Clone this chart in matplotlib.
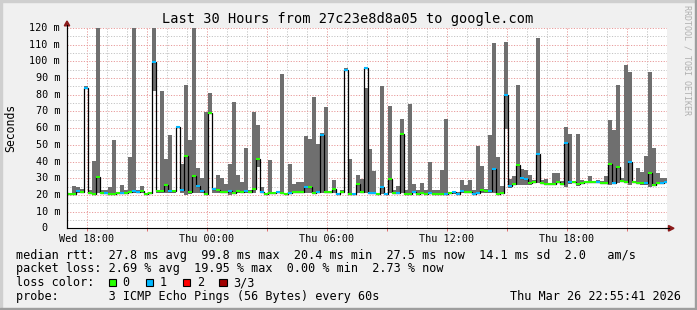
import numpy as np
import matplotlib
matplotlib.use('Agg')
import matplotlib.pyplot as plt
from matplotlib.patches import Rectangle, Polygon

W, H = 697, 310

# 12 minute bins, time in hours since Wed 17:00 (first bin starts off the left edge)
first_bin = -0.15
bin_hours = 0.2

smoke_lo = [20.5, 20.2, 20.2, 21.0, 21.0, 84.0, 20.6, 20.4, 21.0, 20.6,
            20.6, 20.4, 20.0, 20.8, 20.6, 20.8, 21.0, 21.0, 21.0, 21.4,
            20.0, 20.6, 82.2, 21.0, 21.0, 21.0, 21.0, 21.0, 60.0, 21.0,
            20.0, 20.6, 21.0, 21.0, 21.0, 20.4, 69.0, 21.0, 21.0, 21.0,
            21.0, 20.0, 21.0, 21.0, 21.0, 21.0, 21.0, 21.0, 37.0, 21.0,
            20.0, 21.0, 20.6, 21.0, 21.0, 20.0, 20.6, 21.0, 21.0, 21.0,
            21.0, 21.0, 20.4, 21.0, 21.0, 21.0, 21.0, 21.0, 20.2, 21.0,
            94.4, 20.0, 20.0, 21.0, 21.0, 21.0, 20.6, 20.6, 20.0, 20.4,
            20.0, 21.0, 20.6, 20.6, 21.0, 20.0, 20.0, 21.0, 20.4, 20.6,
            20.4, 20.6, 20.0, 20.0, 20.0, 20.4, 20.6, 20.4, 20.4, 21.0,
            21.0, 21.0, 20.4, 20.6, 21.0, 21.0, 21.0, 21.0, 20.0, 20.6,
            59.6, 24.0, 26.0, 26.0, 26.0, 26.0, 26.0, 27.0, 27.0, 26.4,
            26.0, 26.0, 26.0, 27.0, 26.0, 25.0, 26.6, 27.0, 25.6, 26.6,
            27.0, 27.0, 27.0, 27.0, 26.6, 26.6, 26.0, 26.6, 27.0, 28.0,
            27.0, 26.0, 27.0, 27.0, 26.0, 26.0, 25.0, 25.4, 26.6, 27.0,
            27.0]
smoke_hi = [74.0, 21.4, 25.2, 24.6, 23.4, 85.0, 23.0, 40.4, 130, 22.8,
            23.0, 25.0, 52.8, 22.0, 25.8, 23.0, 42.6, 130, 23.2, 25.2,
            21.0, 22.0, 130, 23.2, 82.2, 41.4, 55.8, 23.0, 61.4, 38.4,
            85.8, 53.2, 130, 36.4, 30.0, 69.6, 81.0, 24.0, 31.8, 30.0,
            26.4, 38.4, 75.6, 31.8, 27.6, 48.0, 23.0, 69.6, 62.0, 24.8,
            21.4, 40.8, 22.0, 22.4, 92.4, 21.0, 38.4, 26.4, 27.6, 28.0,
            55.2, 53.4, 78.6, 50.4, 57.0, 72.6, 22.4, 28.8, 21.4, 23.2,
            95.8, 41.4, 21.0, 31.8, 29.4, 84.0, 47.4, 34.4, 21.4, 85.2,
            21.0, 73.0, 23.0, 25.2, 65.4, 23.0, 74.4, 26.8, 23.0, 27.0,
            23.0, 39.6, 23.0, 23.0, 34.8, 65.4, 21.8, 22.6, 21.6, 29.0,
            25.8, 29.0, 23.0, 49.4, 37.2, 23.4, 55.8, 111.0, 42.6, 25.2,
            111.6, 29.4, 31.2, 85.8, 35.4, 34.8, 31.8, 28.8, 114.0, 29.2,
            29.6, 27.2, 33.0, 33.0, 28.4, 60.6, 56.4, 28.6, 56.4, 29.0,
            28.2, 31.2, 28.6, 29.0, 28.4, 31.2, 64.8, 58.8, 85.8, 30.0,
            97.8, 93.6, 28.4, 36.0, 33.6, 43.2, 93.6, 48.0, 33.0, 30.0,
            30.0]
median = [21.0, 20.6, 20.4, 22.4, 21.6, 84.2, 21.2, 20.8, 30.8, 21.0,
          21.2, 20.8, 20.4, 21.4, 21.2, 21.2, 21.6, 22.4, 21.8, 22.4,
          20.4, 21.2, 99.8, 22.4, 22.4, 26.0, 22.4, 22.4, 60.8, 22.8,
          43.2, 21.8, 31.2, 25.2, 22.4, 20.4, 69.0, 23.6, 23.0, 21.8,
          21.8, 22.4, 21.4, 22.4, 21.8, 22.4, 21.8, 23.6, 41.6, 21.8,
          20.4, 21.4, 21.0, 21.8, 21.4, 20.4, 21.4, 21.8, 21.8, 21.8,
          24.8, 24.8, 21.0, 22.0, 56.0, 21.8, 21.8, 23.6, 20.8, 21.8,
          95.0, 20.4, 20.4, 26.4, 21.6, 95.8, 21.2, 21.2, 20.4, 24.8,
          20.4, 29.6, 21.2, 21.2, 56.4, 20.4, 20.4, 21.8, 20.8, 21.2,
          20.8, 21.2, 20.4, 20.4, 20.4, 20.8, 21.2, 21.8, 20.8, 22.4,
          21.8, 21.8, 20.8, 21.2, 23.0, 22.4, 22.4, 35.4, 20.4, 21.2,
          80.0, 25.2, 26.8, 38.0, 30.0, 29.4, 27.0, 27.6, 44.4, 27.0,
          26.4, 26.4, 26.4, 28.0, 26.4, 51.2, 27.8, 27.8, 26.4, 27.2,
          27.6, 27.6, 27.6, 27.6, 27.0, 27.0, 38.4, 27.2, 36.8, 28.6,
          28.0, 39.8, 28.0, 27.2, 27.2, 27.2, 33.2, 25.8, 27.2, 27.2,
          27.5]
# number of lost pings (of 3) per bin
loss = [0, 0, 0, 1, 0, 1, 0, 0, 0, 0,
        1, 0, 0, 0, 1, 0, 0, 1, 1, 0,
        0, 0, 1, 0, 0, 0, 1, 0, 1, 1,
        0, 0, 0, 1, 1, 0, 0, 1, 0, 0,
        0, 1, 0, 0, 0, 1, 0, 0, 0, 1,
        0, 0, 0, 1, 0, 0, 1, 0, 0, 0,
        1, 0, 0, 1, 1, 0, 0, 0, 1, 0,
        1, 0, 1, 0, 0, 1, 1, 1, 0, 1,
        1, 0, 0, 1, 0, 0, 0, 1, 0, 0,
        0, 1, 0, 0, 0, 1, 0, 1, 1, 1,
        0, 0, 1, 1, 0, 0, 1, 1, 0, 0,
        1, 1, 0, 0, 1, 1, 0, 0, 1, 0,
        0, 0, 0, 0, 0, 1, 1, 0, 0, 0,
        0, 0, 0, 1, 0, 0, 0, 1, 0, 0,
        0, 1, 0, 0, 0, 1, 0, 0, 0, 1,
        1]

label_hours = [1, 7, 13, 19, 25]
time_labels = ['Wed 18:00', 'Thu 00:00', 'Thu 06:00', 'Thu 12:00', 'Thu 18:00']

rtt_stats = [27.8, 99.8, 20.4, 27.5, 14.1]   # avg max min now sd (ms)
loss_stats = [2.69, 19.95, 0.00, 2.73]       # avg max min now (%)
am_per_s = 2.0
loss_names = ['0', '1', '2', '3/3']
loss_colors = ['#26ff00', '#00b8ff', '#ff0000', '#a00000']

SMOKE = '#6f6f6f'
ARROW = '#8b1a1a'

plt.rcParams['font.family'] = 'DejaVu Sans Mono'

fig = plt.figure(figsize=(W / 100, H / 100), dpi=100, facecolor='#f0f0f0')


def fx(x):
    return x / W


def fy(y):
    return 1 - y / H


ax = fig.add_axes([fx(67), fy(228.3), 600 / W, 200.3 / H])
ax.set_facecolor('white')
ax.set_xlim(0, 30)
ax.set_ylim(0, 120)

n = len(median)
starts = first_bin + bin_hours * np.arange(n)
lo = np.array(smoke_lo)
hi = np.array(smoke_hi)
ax.bar(starts, hi - lo, bottom=lo, width=bin_hours, align='edge',
       color=SMOKE, linewidth=0, zorder=2)

edges = np.append(starts, starts[-1] + bin_hours)
ax.stairs(median, edges, baseline=None, color='black', lw=0.9, zorder=3)
ax.hlines(median, starts, starts + bin_hours,
          colors=[loss_colors[l] for l in loss], lw=1.5, zorder=4)

# grid: red every 10 ms / 3 h, grey every 5 ms / 1 h
major_x = np.arange(1, 30, 3)
label_at = dict(zip(label_hours, time_labels))
ax.set_xticks(major_x, [label_at.get(int(h), '') for h in major_x])
ax.set_xticks(np.arange(0, 31, 1), minor=True)
ax.set_yticks(np.arange(0, 121, 10))
ax.set_yticks(np.arange(0, 121, 5), minor=True)
ax.set_axisbelow(True)
ax.grid(which='minor', color='#c4c4c4', lw=0.7, ls=(0, (1.2, 1.6)))
ax.grid(which='major', color='#e89a9a', lw=0.7, ls=(0, (1.2, 1.6)))
ax.tick_params(axis='x', which='major', length=2.2, width=0.7,
               color='#e07070', pad=1.6, labelsize=7.3)
ax.tick_params(axis='x', which='minor', length=0)
ax.tick_params(axis='y', which='both', length=0, labelleft=False)

for s in ['top', 'right']:
    ax.spines[s].set_visible(False)
for s in ['left', 'bottom']:
    ax.spines[s].set_color('black')
    ax.spines[s].set_linewidth(0.8)
    ax.spines[s].set_zorder(5)

# y labels: number right aligned, " m" suffix (none for 0)
ytr = ax.get_yaxis_transform()
for v in range(0, 121, 10):
    if v:
        ax.text(-7 / 600, v, f'{v} m', transform=ytr, ha='right', va='center',
                fontsize=7.3)
    else:
        ax.text(-19.5 / 600, v, '0', transform=ytr, ha='right', va='center',
                fontsize=7.3)

# axis extensions and arrows
fig.add_artist(plt.Line2D([fx(67), fx(67)], [fy(228.3), fy(25)], color='black', lw=0.8))
fig.add_artist(plt.Line2D([fx(665), fx(669)], [fy(228.3), fy(228.3)], color='black', lw=0.8))
fig.add_artist(Polygon([(fx(64.3), fy(25.8)), (fx(69.7), fy(25.8)), (fx(67), fy(21))],
                       closed=True, color=ARROW, transform=fig.transFigure))
fig.add_artist(Polygon([(fx(668.5), fy(225.5)), (fx(668.5), fy(231.1)), (fx(674), fy(228.3))],
                       closed=True, color=ARROW, transform=fig.transFigure))

# frame shading
fig.add_artist(Rectangle((0, fy(2)), 1, 2 / H, color='#cfcfcf', transform=fig.transFigure))
fig.add_artist(Rectangle((0, 0), 2 / W, 1, color='#cfcfcf', transform=fig.transFigure))
fig.add_artist(Rectangle((0, 0), 1, 2 / H, color='#9e9e9e', transform=fig.transFigure))
fig.add_artist(Rectangle((fx(695), 0), 2 / W, 1, color='#9e9e9e', transform=fig.transFigure))

fig.text(fx(347.5), fy(23.5), 'Last 30 Hours from 27c23e8d8a05 to google.com',
         ha='center', va='baseline', fontsize=9.8)
fig.text(fx(11), fy(128), 'Seconds', rotation=90, ha='center', va='center', fontsize=8.3)
fig.text(fx(687.5), fy(60), 'RRDTOOL / TOBI OETIKER', rotation=270, ha='center',
         va='center', fontsize=6, color='#b0b0b0')

line1 = ('median rtt:  {:.1f} ms avg  {:.1f} ms max  {:.1f} ms min  '
         '{:.1f} ms now  {:.1f} ms sd  {:.1f}   am/s').format(*rtt_stats, am_per_s)
line2 = 'packet loss: {:.2f} % avg  {:.2f} % max  {:.2f} % min  {:.2f} % now'.format(*loss_stats)
fig.text(fx(15.5), fy(258.5), line1, ha='left', va='baseline', fontsize=8.5)
fig.text(fx(15.5), fy(272.4), line2, ha='left', va='baseline', fontsize=8.5)
fig.text(fx(15.5), fy(286.3), 'loss color:', ha='left', va='baseline', fontsize=8.5)
box_x = [108.7, 145.7, 182.7, 219.3]
for bx, name, col in zip(box_x, loss_names, loss_colors):
    fig.add_artist(Rectangle((fx(bx), fy(286.2)), 7.3 / W, 7.3 / H, facecolor=col,
                             edgecolor='black', lw=0.8, transform=fig.transFigure))
    fig.text(fx(bx + 14), fy(286.3), name, ha='left', va='baseline', fontsize=8.5)
fig.text(fx(15.5), fy(300.2), 'probe:       3 ICMP Echo Pings (56 Bytes) every 60s',
         ha='left', va='baseline', fontsize=8.5)
fig.text(fx(680.5), fy(300.2), 'Thu Mar 26 22:55:41 2026', ha='right', va='baseline',
         fontsize=8.5)

fig.savefig('out.png', dpi=100, facecolor=fig.get_facecolor())
